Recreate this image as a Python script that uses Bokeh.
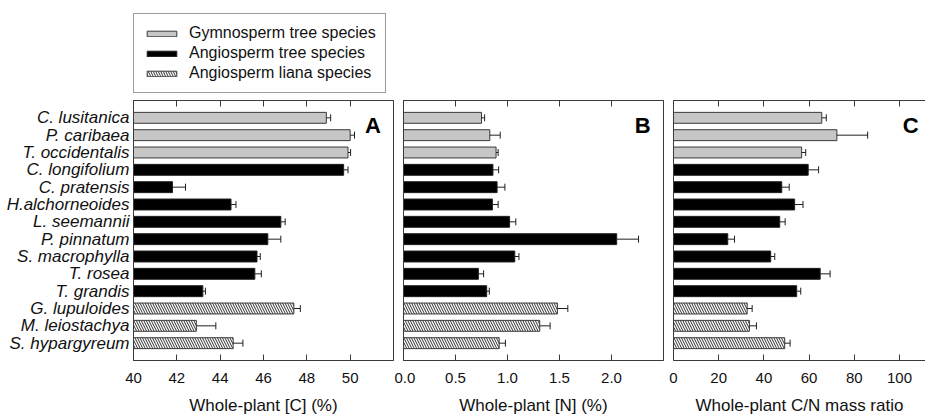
from bokeh.plotting import figure
from bokeh.models import (Range1d, FixedTicker, LinearAxis, ColumnDataSource, Whisker,
                          TeeHead, Legend, LegendItem, Label)
from bokeh.layouts import row, column
from bokeh.embed import file_html
from bokeh.resources import INLINE

# ---------------- data ----------------
species = ["C. lusitanica", "P. caribaea", "T. occidentalis", "C. longifolium",
           "C. pratensis", "H.alchorneoides", "L. seemannii", "P. pinnatum",
           "S. macrophylla", "T. rosea", "T. grandis", "G. lupuloides",
           "M. leiostachya", "S. hypargyreum"]
groups = ["gym", "gym", "gym", "ang", "ang", "ang", "ang", "ang", "ang", "ang", "ang",
          "lia", "lia", "lia"]
group_names = ["Gymnosperm tree species", "Angiosperm tree species", "Angiosperm liana species"]
group_keys = ["gym", "ang", "lia"]

carbon = [48.9, 50.0, 49.9, 49.7, 41.8, 44.5, 46.8, 46.2, 45.7, 45.6, 43.2, 47.4, 42.9, 44.6]
carbon_err = [0.2, 0.2, 0.12, 0.2, 0.6, 0.23, 0.2, 0.6, 0.15, 0.3, 0.12, 0.3, 0.9, 0.45]
nitrogen = [0.75, 0.83, 0.89, 0.86, 0.90, 0.855, 1.02, 2.05, 1.07, 0.72, 0.80, 1.48, 1.31, 0.92]
nitrogen_err = [0.03, 0.10, 0.02, 0.055, 0.075, 0.055, 0.06, 0.21, 0.04, 0.05, 0.025, 0.10, 0.10, 0.06]
cn_ratio = [65.6, 72.3, 56.7, 59.6, 47.9, 53.6, 47.0, 24.0, 43.0, 64.9, 54.5, 32.6, 33.6, 49.2]
cn_err = [2.0, 13.6, 1.8, 4.6, 3.3, 3.7, 2.4, 3.0, 1.8, 4.4, 1.8, 2.2, 3.1, 2.4]

c_ticks = [40, 42, 44, 46, 48, 50]
c_tick_labels = ["40", "42", "44", "46", "48", "50"]
n_ticks = [0, 0.5, 1, 1.5, 2]
n_tick_labels = ["0.0", "0.5", "1.0", "1.5", "2.0"]
cn_ticks = [0, 20, 40, 60, 80, 100]
cn_tick_labels = ["0", "20", "40", "60", "80", "100"]

titles = ["Whole-plant [C] (%)", "Whole-plant [N] (%)", "Whole-plant C/N mass ratio"]
letters = ["A", "B", "C"]

# ---------------- style ----------------
FONT = "Liberation Sans"
FRAME = "#3a3a3a"
styles = {
    "gym": dict(fill_color="#c6c6c6", line_color="#3a3a3a"),
    "ang": dict(fill_color="#000000", line_color="#202020"),
    "lia": dict(fill_color="#ffffff", line_color="#3a3a3a", hatch_pattern="\\",
                hatch_color="#303030", hatch_scale=5, hatch_weight=1),
}
ypos = list(range(1, len(species) + 1))


def make_panel(vals, errs, xr, ticks, tick_labels, title, letter, letter_x,
               width, border_left, border_right, show_names, full_box):
    p = figure(width=width, height=320, x_range=Range1d(*xr), y_range=Range1d(15, 0),
               min_border_left=border_left, min_border_right=border_right,
               min_border_top=3, min_border_bottom=57,
               x_axis_location=None, y_axis_location=None,
               output_backend="svg", toolbar_location=None)
    p.xgrid.visible = False
    p.ygrid.visible = False
    p.background_fill_color = "white"
    p.border_fill_color = "white"
    if full_box:
        p.outline_line_color = FRAME
        p.outline_line_width = 1
    else:
        p.outline_line_color = None

    sources = {}
    for g in group_keys:
        idx = [i for i, gg in enumerate(groups) if gg == g]
        src = ColumnDataSource(dict(
            y=[ypos[i] for i in idx],
            val=[vals[i] for i in idx],
            hi=[vals[i] + errs[i] for i in idx],
        ))
        sources[g] = src
        p.hbar(y="y", left=xr[0], right="val", height=0.63, source=src,
               line_width=1, **styles[g])
        w = Whisker(source=src, base="y", lower="val", upper="hi", dimension="width",
                    line_color="#202020", line_width=1,
                    upper_head=TeeHead(size=7, line_color="#202020", line_width=1),
                    lower_head=None, level="overlay")
        p.add_layout(w)

    # bottom axis
    ax = LinearAxis(ticker=FixedTicker(ticks=ticks),
                    major_label_overrides=dict(zip(ticks, tick_labels)),
                    axis_label=title)
    ax.axis_line_color = FRAME
    ax.major_tick_line_color = FRAME
    ax.major_tick_in = 6
    ax.major_tick_out = 0
    ax.minor_tick_line_color = None
    ax.major_label_text_font = FONT
    ax.major_label_text_font_size = "15px"
    ax.major_label_text_color = "#111111"
    ax.major_label_standoff = 12
    ax.axis_label_text_font = FONT
    ax.axis_label_text_font_size = "17px"
    ax.axis_label_text_font_style = "normal"
    ax.axis_label_text_color = "#111111"
    ax.axis_label_standoff = 10
    p.add_layout(ax, "below")

    # top axis (ticks only)
    ax2 = LinearAxis(ticker=FixedTicker(ticks=ticks))
    ax2.axis_line_color = FRAME
    ax2.major_tick_line_color = FRAME
    ax2.major_tick_in = 6
    ax2.major_tick_out = 0
    ax2.minor_tick_line_color = None
    ax2.major_label_text_font_size = "1px"
    ax2.major_label_text_color = None
    ax2.major_label_standoff = 0
    p.add_layout(ax2, "above")

    # left axis
    if show_names:
        ay = LinearAxis(ticker=FixedTicker(ticks=ypos),
                        major_label_overrides=dict(zip(ypos, species)))
        ay.major_label_text_font = FONT
        ay.major_label_text_font_style = "italic"
        ay.major_label_text_font_size = "17px"
        ay.major_label_text_color = "#111111"
        ay.major_label_standoff = 4
    else:
        ay = LinearAxis(ticker=FixedTicker(ticks=[]))
        ay.major_label_text_font_size = "1px"
    ay.axis_line_color = FRAME
    ay.major_tick_in = 0
    ay.major_tick_out = 0
    ay.major_tick_line_color = None
    ay.minor_tick_line_color = None
    p.add_layout(ay, "left")

    p.add_layout(Label(x=letter_x, y=1.45, text=letter, text_font=FONT,
                       text_font_style="bold", text_font_size="22px",
                       text_align="center", text_baseline="middle", text_color="#000000"))
    return p, sources


pA, srcA = make_panel(carbon, carbon_err, (40, 52), c_ticks, c_tick_labels, titles[0],
                      letters[0], 51.05, 394, 133, 1, True, True)
pB, srcB = make_panel(nitrogen, nitrogen_err, (0, 2.5), n_ticks, n_tick_labels, titles[1],
                      letters[1], 2.30, 270, 9, 1, False, True)
pC, srcC = make_panel(cn_ratio, cn_err, (0, 111.5), cn_ticks, cn_tick_labels, titles[2],
                      letters[2], 105.0, 261, 9, 0, False, False)

# ---------------- legend strip (its bars use panel A's data, outside this strip's view) ----
pL = figure(width=394, height=97, x_range=Range1d(0, 1), y_range=Range1d(0, 1),
            min_border=0, x_axis_location=None, y_axis_location=None,
            output_backend="svg", toolbar_location=None)
pL.xgrid.visible = False
pL.ygrid.visible = False
pL.outline_line_color = None
items = []
for i, g in enumerate(group_keys):
    r = pL.hbar(y="y", left=40, right="val", height=0.63, source=srcA[g],
                line_width=1, **styles[g])
    items.append(LegendItem(label=group_names[i], renderers=[r]))

legend = Legend(items=items, location=(133, 4), orientation="vertical")
legend.label_text_font = FONT
legend.label_text_font_size = "16px"
legend.label_text_color = "#111111"
legend.glyph_width = 37
legend.glyph_height = 7
legend.label_height = 20
legend.label_standoff = 9
legend.padding = 9
legend.spacing = 0
legend.margin = 0
legend.border_line_color = FRAME
legend.border_line_width = 1
legend.background_fill_color = "white"
legend.background_fill_alpha = 1.0
pL.add_layout(legend, "center")

layout = column(pL, row(pA, pB, pC))
open("out.html", "w").write(file_html(layout, INLINE))
